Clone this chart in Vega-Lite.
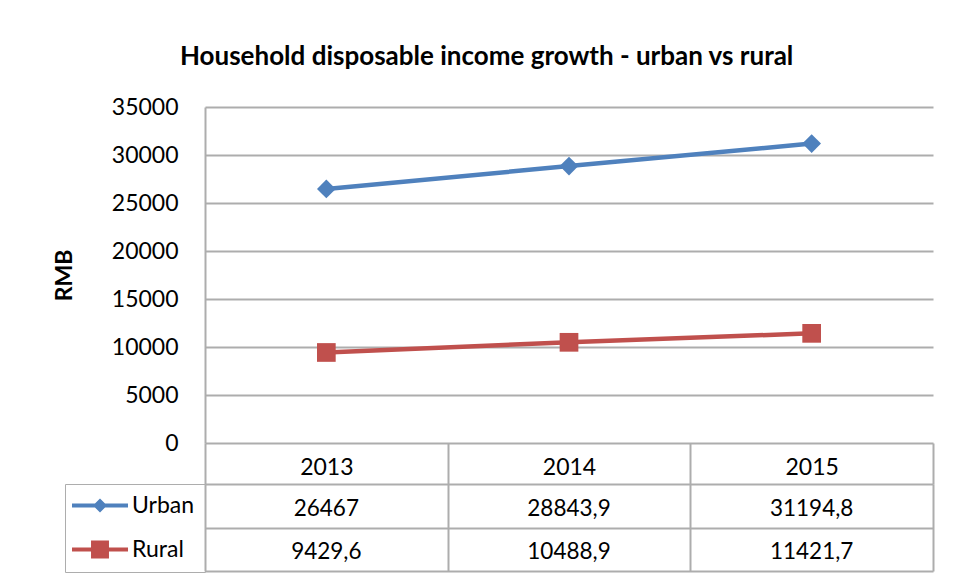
{
  "$schema": "https://vega.github.io/schema/vega-lite/v6.json",
  "padding": {"left": 53, "top": 44, "right": 10, "bottom": 0},
  "background": "white",
  "title": {"text": "Household disposable income growth - urban vs rural", "font": "Lato", "fontSize": 26, "fontWeight": "bold", "color": "#000000", "anchor": "middle", "offset": 26, "dx": -7},
  "config": {
    "locale": {"number": {"decimal": ",", "thousands": ".", "grouping": [3], "currency": ["", ""]}},
    "view": {"stroke": null},
    "font": "Lato"
  },
  "datasets": {
    "income": [
      {"year": "2013", "series": "Urban", "value": 26467},
      {"year": "2014", "series": "Urban", "value": 28843.9},
      {"year": "2015", "series": "Urban", "value": 31194.8},
      {"year": "2013", "series": "Rural", "value": 9429.6},
      {"year": "2014", "series": "Rural", "value": 10488.9},
      {"year": "2015", "series": "Rural", "value": 11421.7}
    ]
  },
  "spacing": 41,
  "bounds": "flush",
  "resolve": {
    "scale": {"x": "independent", "y": "independent", "color": "independent", "shape": "independent"},
    "legend": {"color": "independent", "shape": "independent"}
  },
  "vconcat": [
    {
      "width": 728,
      "height": 336,
      "data": {"name": "income"},
      "encoding": {
        "x": {
          "field": "year", "type": "ordinal",
          "scale": {"paddingInner": 0, "paddingOuter": 0},
          "axis": {"title": null, "labelAngle": 0, "domain": false, "grid": false, "ticks": true, "tickBand": "extent", "tickSize": 41, "tickColor": "#ADADAD", "tickWidth": 2, "labelFont": "Lato", "labelFontSize": 23, "labelColor": "#000000", "labelBaseline": "middle", "labelPadding": -17}
        },
        "y": {
          "field": "value", "type": "quantitative",
          "scale": {"domain": [0, 35000], "nice": false},
          "axis": {"title": "RMB", "titleFont": "Lato", "titleFontSize": 23, "titleFontWeight": "bold", "titleColor": "#000000", "titlePadding": 35, "values": [0, 5000, 10000, 15000, 20000, 25000, 30000, 35000], "format": "d", "labelFont": "Lato", "labelFontSize": 23, "labelColor": "#000000", "labelPadding": 27, "ticks": false, "domain": true, "domainColor": "#ADADAD", "domainWidth": 2, "grid": true, "gridColor": "#ADADAD", "gridWidth": 2}
        },
        "color": {"field": "series", "type": "nominal", "scale": {"domain": ["Urban", "Rural"], "range": ["#4F81BD", "#C0504D"]}, "legend": null}
      },
      "layer": [
        {"mark": {"type": "line", "strokeWidth": 4.5}},
        {
          "mark": {"type": "point", "filled": true, "opacity": 1, "size": 350},
          "encoding": {"shape": {"field": "series", "type": "nominal", "scale": {"domain": ["Urban", "Rural"], "range": ["diamond", "square"]}, "legend": null}}
        }
      ]
    },
    {
      "width": 728,
      "height": 87,
      "data": {"name": "income"},
      "encoding": {
        "x": {
          "field": "year", "type": "ordinal",
          "scale": {"paddingInner": 0, "paddingOuter": 0},
          "axis": {"title": null, "orient": "top", "labels": false, "ticks": false, "domain": false, "grid": true, "tickBand": "extent", "gridColor": "#ADADAD", "gridWidth": 2}
        },
        "y": {
          "field": "series", "type": "nominal",
          "scale": {"domain": ["Urban", "Rural"], "paddingInner": 0, "paddingOuter": 0},
          "axis": {"title": null, "labels": false, "ticks": false, "domain": false, "grid": true, "tickBand": "extent", "gridColor": "#ADADAD", "gridWidth": 2}
        }
      },
      "layer": [
        {
          "mark": {"type": "text", "font": "Lato", "fontSize": 22.5, "color": "#000000", "dy": 3},
          "encoding": {"text": {"field": "value", "type": "quantitative", "format": "~f"}}
        },
        {
          "transform": [{"filter": "false"}],
          "mark": {"type": "point", "filled": true, "opacity": 1},
          "encoding": {
            "color": {
              "field": "series", "type": "nominal",
              "scale": {"domain": ["Urban", "Rural"], "range": ["#4F81BD", "#C0504D"]},
              "legend": {"orient": "left", "offset": 0, "title": null, "padding": 10, "strokeColor": "#ADADAD", "labelFont": "Lato", "labelFontSize": 23, "labelColor": "#000000", "labelOffset": 34, "rowPadding": 20, "symbolSize": 529, "symbolStrokeWidth": 0, "encode": {"legend": {"update": {"strokeWidth": {"value": 2}}}}}
            },
            "shape": {
              "field": "series", "type": "nominal",
              "scale": {"domain": ["Urban", "Rural"], "range": ["M-1.26,-0.17H3.61V0.17H-1.26ZM1.174,-0.61L1.784,0L1.174,0.61L0.564,0Z", "M-1.26,-0.17H3.61V0.17H-1.26ZM0.394,-0.78H1.954V0.78H0.394Z"]},
              "legend": {"orient": "left", "offset": 0, "title": null, "padding": 10, "strokeColor": "#ADADAD", "labelFont": "Lato", "labelFontSize": 23, "labelColor": "#000000", "labelOffset": 34, "rowPadding": 20, "symbolSize": 529, "symbolStrokeWidth": 0, "encode": {"legend": {"update": {"strokeWidth": {"value": 2}}}}}
            }
          }
        }
      ]
    }
  ]
}
